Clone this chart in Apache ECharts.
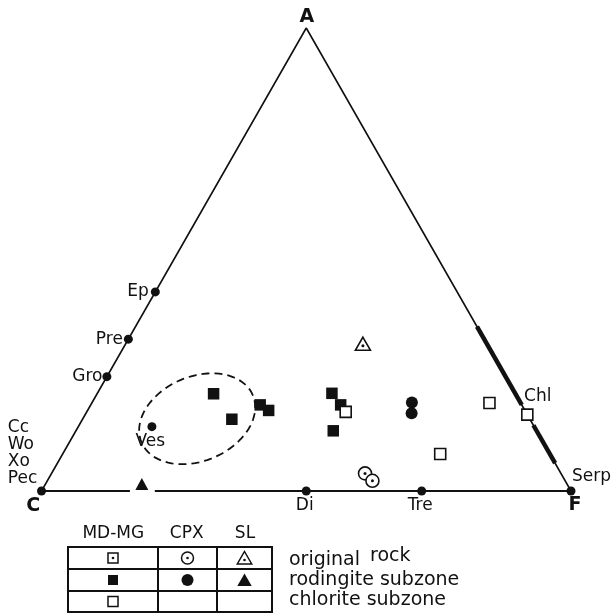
<!DOCTYPE html>
<html>
<head>
<meta charset="utf-8">
<script src="https://cdn.jsdelivr.net/npm/echarts@6/dist/echarts.min.js"></script>
<style>
  html, body { margin: 0; padding: 0; background: #fff; }
  #chart { width: 611px; height: 614px; }
</style>
</head>
<body>
<div id="chart"></div>
<script>
// ACF ternary diagram. Every composition is [A, C, F] in percent.
const vertexLabels = ['A', 'C', 'F'];
const vertexComps = [[100, 0, 0], [0, 100, 0], [0, 0, 100]];

// Reference minerals plotted as dots
const phaseNames = ['Ep', 'Pre', 'Gro', 'Ves', 'Di', 'Tre', 'Serp', 'Cc\nWo\nXo\nPec'];
const phaseComps = [
  [43.0, 57.0, 0], [32.8, 67.2, 0], [24.7, 75.3, 0], [13.9, 72.2, 13.9],
  [0, 50.0, 50.0], [0, 28.2, 71.8], [0, 0, 100], [0, 100, 0]
];

// Chlorite: label position and the solid-solution ranges (A % on the A–F edge)
const chlComp = [16.5, 0, 83.5];
const chlRanges = [[35.5, 18.6], [14.2, 6.0]];
// Interruption of the C–F base line (F %)
const baseGap = [16.7, 21.4];

// Dashed field around the vesuvianite-bearing rodingites
const fieldCenter = [15.6, 62.8, 21.6];
const fieldRadii = [11.4, 7.9];
const fieldAngle = 22.4;

// Samples
const mdmgRodingite = [
  [21.0, 57.0, 22.0], [15.5, 56.3, 28.2], [18.6, 49.4, 32.0], [17.4, 48.4, 34.2],
  [21.1, 34.6, 44.3], [18.6, 34.2, 47.2], [13.0, 38.4, 48.6]
];
const mdmgChlorite = [[17.1, 34.0, 48.9], [8.0, 20.7, 71.3], [19.0, 5.9, 75.1], [16.5, 0, 83.5]];
const cpxOriginal = [[3.8, 37.0, 59.2], [2.2, 36.4, 61.4]];
const cpxRodingite = [[19.1, 20.5, 60.4], [16.8, 21.7, 61.5]];
const slOriginal = [[31.8, 23.4, 44.8]];
const slRodingite = [[1.5, 80.3, 18.2]];

// Key table
const keyHeaders = ['MD-MG', 'CPX', 'SL'];
const keyRows = ['original rock', 'rodingite subzone', 'chlorite subzone'];

const INK = '#111';
const FONT = '"DejaVu Sans", sans-serif';
const H = Math.sqrt(3) / 2;

function toXY(c) {
  const s = c[0] + c[1] + c[2];
  const a = c[0] / s * 100, f = c[2] / s * 100;
  return [f + a / 2, a * H];
}

// Label placed at an offset (px) from a symbol's centre
function labelAt(size, ox, oy, align, vAlign, extra) {
  return Object.assign({
    show: true,
    position: [ox + size / 2, oy + size / 2],
    align: align || 'center',
    verticalAlign: vAlign || 'middle',
    color: INK,
    opacity: 1,
    fontFamily: FONT,
    fontSize: 17
  }, extra || {});
}

const DOT = 9;
const phaseLabelOffsets = [
  [-6.5, 0, 'right'], [-5.5, 0, 'right'], [-4.5, 0, 'right'], [-1.7, 15, 'center'],
  [-1.5, 15, 'center'], [-1.5, 15, 'center'], [1, -14, 'left'], [-33.7, -72.5, 'left', 'top']
];

const phaseData = phaseComps.map((c, i) => {
  const o = phaseLabelOffsets[i];
  return {
    value: toXY(c),
    label: Object.assign(labelAt(DOT, o[0], o[1], o[2], o[3] || 'middle'),
      { formatter: phaseNames[i], lineHeight: 17.3 })
  };
});

const vertexLabelOffsets = [[0.5, -11.3], [-8.4, 15], [4, 14]];
const vertexData = vertexComps.map((c, i) => ({
  value: toXY(c),
  label: Object.assign(labelAt(0, vertexLabelOffsets[i][0], vertexLabelOffsets[i][1], 'center', 'middle',
    { fontWeight: 'bold', fontSize: 19 }), { formatter: vertexLabels[i] })
}));

const A = toXY(vertexComps[0]), C = toXY(vertexComps[1]), F = toXY(vertexComps[2]);

function lineSeries(points, width) {
  return {
    type: 'line', data: points, symbol: 'none', silent: true,
    lineStyle: { color: INK, width: width, opacity: 1 }, z: 1
  };
}

const chlRangeSeries = chlRanges.map(r =>
  lineSeries([toXY([r[0], 0, 100 - r[0]]), toXY([r[1], 0, 100 - r[1]])], 4.5));

function markerSeries(data, symbol, size, filled, z) {
  return {
    type: 'scatter', data: data.map(toXY), symbol: symbol, symbolSize: size, z: z || 3,
    itemStyle: filled
      ? { color: INK, borderWidth: 0, opacity: 1 }
      : { color: '#fff', borderColor: INK, borderWidth: 1.6, opacity: 1 }
  };
}
function centreDots(data, offset) {
  return {
    type: 'scatter', data: data.map(toXY), symbol: 'circle', symbolSize: 3,
    symbolOffset: offset || [0, 0], z: 4, itemStyle: { color: INK, opacity: 1 }
  };
}

// Key table graphics
const tbl = { x0: 68, x1: 272, y0: 547, y1: 612, cols: [158, 217], rows: [569, 591] };
const colCx = [113, 187.5, 244.5];
const rowCy = [558, 580, 601.5];
const graphics = [];
graphics.push({ type: 'rect', shape: { x: tbl.x0, y: tbl.y0, width: tbl.x1 - tbl.x0, height: tbl.y1 - tbl.y0 },
  style: { fill: 'none', stroke: INK, lineWidth: 2 } });
tbl.cols.forEach(x => graphics.push({ type: 'line', shape: { x1: x, y1: tbl.y0, x2: x, y2: tbl.y1 },
  style: { stroke: INK, lineWidth: 2 } }));
tbl.rows.forEach(y => graphics.push({ type: 'line', shape: { x1: tbl.x0, y1: y, x2: tbl.x1, y2: y },
  style: { stroke: INK, lineWidth: 2 } }));
const headerX = [113.3, 186.7, 245];
keyHeaders.forEach((t, i) => graphics.push({ type: 'text', x: headerX[i], y: 534,
  style: { text: t, fill: INK, font: '17px ' + FONT, align: 'center', verticalAlign: 'middle' } }));

function keySymbol(kind, fill, dot, cx, cy) {
  const st = fill ? { fill: INK } : { fill: '#fff', stroke: INK, lineWidth: 1.5 };
  if (kind === 'rect') graphics.push({ type: 'rect', shape: { x: cx - 5, y: cy - 5, width: 10, height: 10 }, style: st });
  if (kind === 'circle') graphics.push({ type: 'circle', shape: { cx: cx, cy: cy, r: 6 }, style: st });
  if (kind === 'triangle') graphics.push({ type: 'polygon',
    shape: { points: [[cx, cy - 6.5], [cx + 7.2, cy + 6], [cx - 7.2, cy + 6]] }, style: st });
  if (dot) graphics.push({ type: 'circle', shape: { cx: cx, cy: cy + (kind === 'triangle' ? 2 : 0), r: 1.3 },
    style: { fill: INK } });
}
const keyCells = [
  [['rect', false, true], ['circle', false, true], ['triangle', false, true]],
  [['rect', true, false], ['circle', true, false], ['triangle', true, false]],
  [['rect', false, false], null, null]
];
keyCells.forEach((row, r) => row.forEach((cell, c) => {
  if (cell) keySymbol(cell[0], cell[1], cell[2], colCx[c], rowCy[r]);
}));
const keyTextY = [560.4, 580.4, 600.4];
keyRows.forEach((t, r) => {
  const words = r === 0 ? t.split(' ') : [t];
  graphics.push({ type: 'text', x: 289, y: keyTextY[r],
    style: { text: words[0], fill: INK, font: '19px ' + FONT, align: 'left', verticalAlign: 'middle' } });
  if (words.length > 1) graphics.push({ type: 'text', x: 370, y: keyTextY[r] - 4.5,
    style: { text: words[1], fill: INK, font: '19px ' + FONT, align: 'left', verticalAlign: 'middle' } });
});

const chart = echarts.init(document.getElementById('chart'), null, { renderer: 'canvas' });
chart.setOption({
  animation: false,
  backgroundColor: '#fff',
  grid: { left: 41.5, right: 40, top: 28, bottom: 123 },
  xAxis: { type: 'value', min: 0, max: 100, show: false },
  yAxis: { type: 'value', min: 0, max: 100 * H, show: false },
  graphic: graphics,
  series: [
    // triangle sides
    lineSeries([C, A, F], 1.6),
    lineSeries([C, toXY([0, 100 - baseGap[0], baseGap[0]])], 2.2),
    lineSeries([toXY([0, 100 - baseGap[1], baseGap[1]]), F], 2.2),
    ...chlRangeSeries,
    // dashed field
    {
      type: 'custom', silent: true, z: 2,
      data: [toXY(fieldCenter)],
      renderItem: function (params, api) {
        const cx = api.value(0), cy = api.value(1);
        const th = fieldAngle * Math.PI / 180;
        const pts = [];
        for (let k = 0; k < 90; k++) {
          const t = k / 90 * 2 * Math.PI;
          const dx = fieldRadii[0] * Math.cos(t), dy = fieldRadii[1] * Math.sin(t);
          pts.push(api.coord([cx + dx * Math.cos(th) - dy * Math.sin(th),
                              cy + dx * Math.sin(th) + dy * Math.cos(th)]));
        }
        return { type: 'polygon', shape: { points: pts },
          style: { fill: 'none', stroke: INK, lineWidth: 1.8, lineDash: [8, 5] } };
      }
    },
    // mineral dots with names
    { type: 'scatter', data: phaseData, symbol: 'circle', symbolSize: DOT, z: 3,
      itemStyle: { color: INK, opacity: 1 } },
    // vertex names
    { type: 'scatter', data: vertexData, symbolSize: 0, z: 3, itemStyle: { color: INK, opacity: 1 } },
    // chlorite name
    { type: 'scatter', data: [{ value: toXY(chlComp),
        label: Object.assign(labelAt(0, -3.3, -18.5, 'left', 'middle'), { formatter: 'Chl' }) }],
      symbolSize: 0, z: 3, itemStyle: { opacity: 1 } },
    // samples
    markerSeries(mdmgRodingite, 'rect', 11.5, true),
    markerSeries(mdmgChlorite, 'rect', 11, false, 4),
    markerSeries(cpxRodingite, 'circle', 12, true),
    markerSeries(cpxOriginal, 'circle', 13, false),
    centreDots(cpxOriginal),
    markerSeries(slRodingite, 'triangle', [13, 12], true),
    markerSeries(slOriginal, 'triangle', [15, 13], false),
    centreDots(slOriginal, [0, 2])
  ]
});
</script>
</body>
</html>
